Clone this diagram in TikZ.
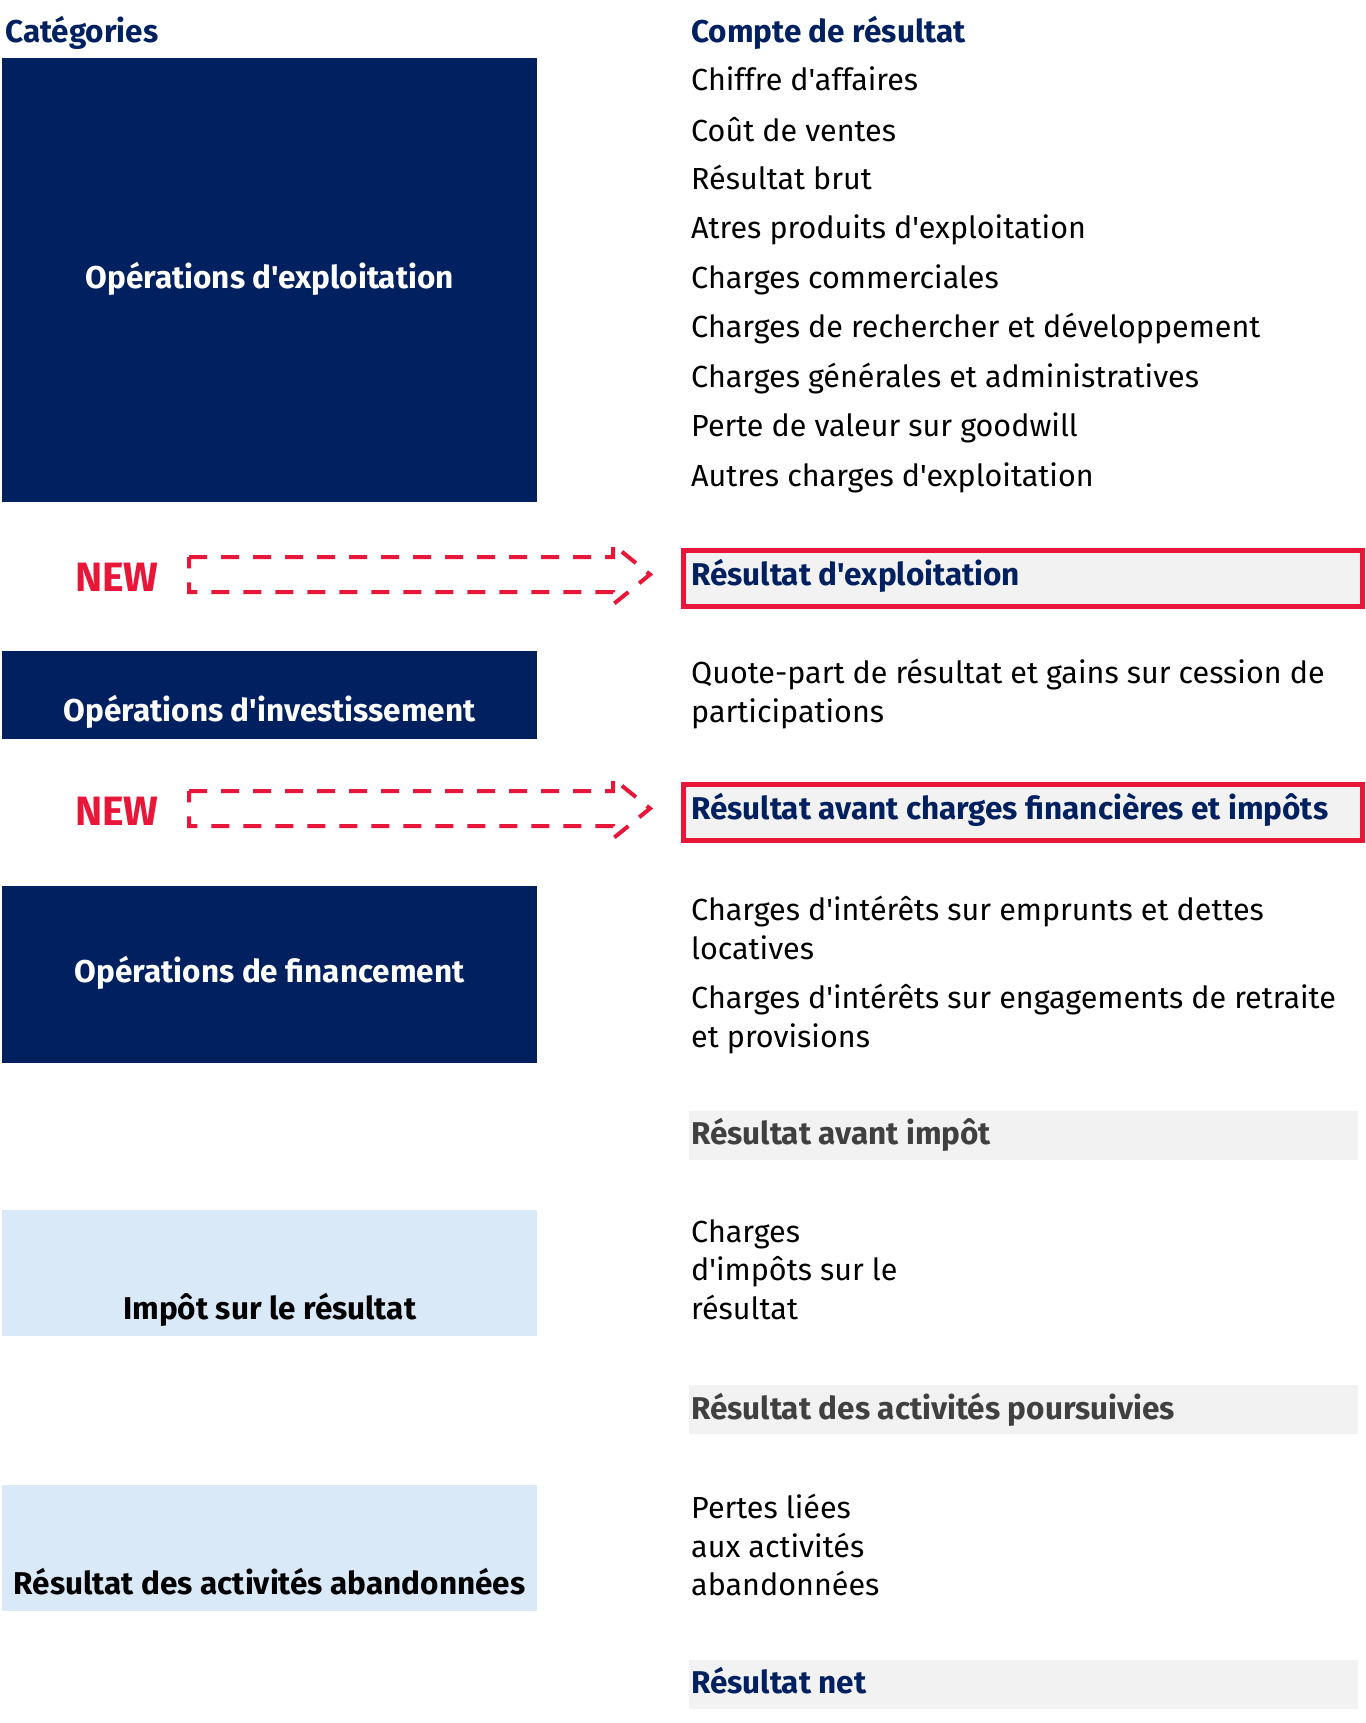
\documentclass[tikz,border=0pt]{standalone}
\usepackage{fontspec}
\setmainfont[Ligatures=TeXOff]{Fira Sans}
\usepackage{xcolor}
\usepackage{tikz}
\usetikzlibrary{positioning}
\definecolor{navy}{RGB}{0,32,96}
\definecolor{newred}{RGB}{232,23,58}
\definecolor{paleblue}{RGB}{218,233,248}
\definecolor{lightgrey}{RGB}{242,242,242}
\definecolor{darkgrey}{RGB}{64,64,64}
\newcommand\txtfont{\fontsize{30.5}{38.5}\selectfont}
\newcommand\boldfont{\fontsize{31.5}{38.5}\selectfont\bfseries}
\tikzset{%
  catboxa/.style={rectangle,anchor=north west,fill=navy,inner sep=0pt,minimum width=535pt}
}
\tikzset{%
  catboxb/.style={rectangle,anchor=north west,fill=paleblue,inner sep=0pt,minimum width=535pt}
}
\tikzset{%
  cattext/.style={inner sep=0pt,font=\boldfont,text height=19pt,text depth=6pt},
  headtext/.style={anchor=west,inner sep=0pt,font=\boldfont,text=navy,text height=19pt,text depth=6pt},
  itemtext/.style={anchor=west,inner sep=0pt,font=\txtfont,text height=19pt,text depth=6pt},
  itemlines/.style={anchor=north west,inner sep=0pt,font=\txtfont,align=left},
  resbox/.style={rectangle,anchor=north west,fill=lightgrey,inner sep=0pt,minimum width=669pt,minimum height=49pt},
  resboxnew/.style={rectangle,anchor=north west,fill=lightgrey,draw=newred,line width=5pt,inner sep=0pt,minimum width=679pt,minimum height=56pt},
  newtext/.style={anchor=west,inner sep=0pt,font=\fontsize{41}{46}\selectfont\bfseries,text=newred},
  newarrow/.style={draw=newred,line width=4pt,dash pattern=on 18pt off 14pt,line join=miter}
}

\begin{document}
\begin{tikzpicture}[x=1pt,y=-1pt]
  \useasboundingbox (0,0) rectangle (1365,1723);
  % headings
  \node[headtext](cathead) at (5,36){Catégories};
  \node[headtext](cpthead) at (691,36){Compte de résultat};

  % categories
  \node[catboxa,minimum height=444pt](boxexp) at (2,58){};
  \node[cattext,text=white](labexp) at ([yshift=-2pt]boxexp.center){Opérations d'exploitation};
  \node[catboxa,minimum height=88pt](boxinv) at (2,651){};
  \node[cattext,text=white](labinv) at ([yshift=-20pt]boxinv.center){Opérations d'investissement};
  \node[catboxa,minimum height=177pt](boxfin) at (2,886){};
  \node[cattext,text=white](labfin) at ([yshift=-1pt]boxfin.center){Opérations de financement};
  \node[catboxb,minimum height=126pt](boximp) at (2,1210){};
  \node[cattext,text=black](labimp) at ([yshift=-40pt]boximp.center){Impôt sur le résultat};
  \node[catboxb,minimum height=126pt](boxaba) at (2,1485){};
  \node[cattext,text=black](lababa) at ([yshift=-40pt]boxaba.center){Résultat des activités abandonnées};

  % compte de resultat
  \node[itemtext](ca) at (691,84){Chiffre d'affaires};
  \node[itemtext](cdv) at (691,135){Coût de ventes};
  \node[itemtext](rb) at (691,183){Résultat brut};
  \node[itemtext](ape) at (691,232){Atres produits d'exploitation};
  \node[itemtext](cc) at (691,282){Charges commerciales};
  \node[itemtext](crd) at (691,331){Charges de rechercher et développement};
  \node[itemtext](cga) at (691,381){Charges générales et administratives};
  \node[itemtext](pvg) at (691,430){Perte de valeur sur goodwill};
  \node[itemtext](ace) at (691,480){Autres charges d'exploitation};

  \node[resboxnew](resexp) at (680.5,547.5){};
  \node[headtext](labresexp) at (691,579){Résultat d'exploitation};

  \node[itemlines](qp) at (691,659){Quote-part de résultat et gains sur cession de\\participations};

  \node[resboxnew](resacf) at (680.5,781.5){};
  \node[headtext](labresacf) at (691,813){Résultat avant charges financières et impôts};

  \node[itemlines](cie) at (691,896){Charges d'intérêts sur emprunts et dettes\\locatives};
  \node[itemlines](cir) at (691,984){Charges d'intérêts sur engagements de retraite\\et provisions};

  \node[resbox](resai) at (689,1111){};
  \node[headtext,text=darkgrey](labresai) at (691,1138){Résultat avant impôt};

  \node[itemlines](cis) at (691,1219){Charges\\d'impôts sur le\\résultat};

  \node[resbox](resap) at (689,1385){};
  \node[headtext,text=darkgrey](labresap) at (691,1413){Résultat des activités poursuivies};

  \node[itemlines](pla) at (691,1494){Pertes liées\\aux activités\\abandonnées};

  \node[resbox](resnet) at (689,1660){};
  \node[headtext](labresnet) at (691,1687){Résultat net};

  % new
  \node[newtext](newa) at (75,577){NEW};
  \coordinate (taila) at (189,574.5);
  \draw[newarrow] (taila) ++(0,-17.5) -- ++(424,0) -- ++(0,-12.5) -- ++(37,30) -- ++(-37,30) -- ++(0,-12.5) -- ++(-424,0) -- cycle;
  \node[newtext](newb) at (75,811){NEW};
  \coordinate (tailb) at (189,808.5);
  \draw[newarrow] (tailb) ++(0,-17.5) -- ++(424,0) -- ++(0,-12.5) -- ++(37,30) -- ++(-37,30) -- ++(0,-12.5) -- ++(-424,0) -- cycle;
\end{tikzpicture}
\end{document}
